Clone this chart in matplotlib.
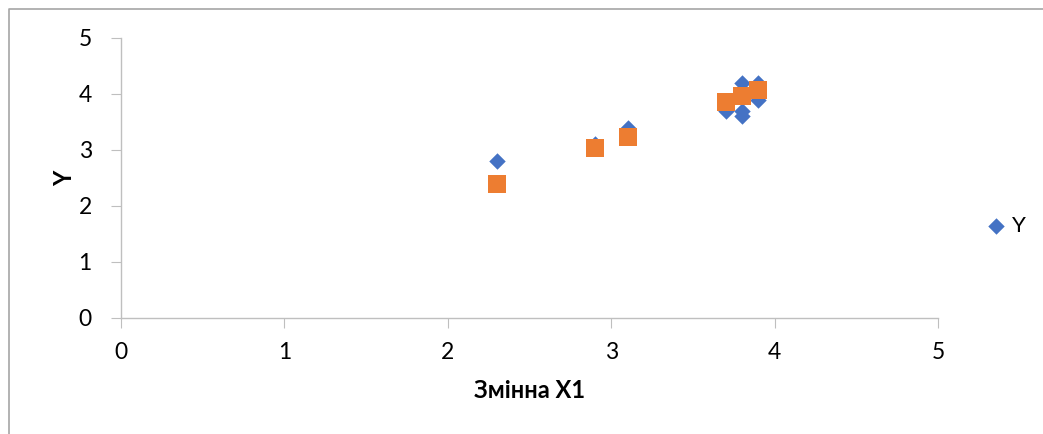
import matplotlib.pyplot as plt
from matplotlib.lines import Line2D

# observed values
x1 = [2.3, 2.9, 3.1, 3.7, 3.8, 3.8, 3.8, 3.9, 3.9]
y_obs = [2.8, 3.1, 3.4, 3.7, 4.2, 3.7, 3.6, 4.2, 3.9]

# predicted values
x1_pred = [2.3, 2.9, 3.1, 3.7, 3.8, 3.9]
y_pred = [2.39, 3.03, 3.23, 3.86, 3.96, 4.07]

ticks = [0, 1, 2, 3, 4, 5]

plt.rcParams['font.family'] = ['Lato', 'DejaVu Sans']

fig = plt.figure(figsize=(10.43, 4.34), dpi=100)
ax = fig.add_axes([121 / 1043, 1 - 318 / 434, 817 / 1043, 280 / 434])

ax.scatter(x1, y_obs, marker='D', s=70, color='#4472C4', label='Y', zorder=3,
           linewidths=0)
ax.scatter(x1_pred, y_pred, marker='s', s=170, color='#ED7D31', zorder=4,
           linewidths=0)

ax.set_xlim(0, 5)
ax.set_ylim(0, 5)
ax.set_xticks(ticks)
ax.set_yticks(ticks)
ax.tick_params(axis='both', labelsize=16.5, length=7, color='#BFBFBF',
               labelcolor='black', direction='out')
ax.tick_params(axis='y', pad=14)
ax.tick_params(axis='x', pad=10)

for side in ['top', 'right']:
    ax.spines[side].set_visible(False)
for side in ['left', 'bottom']:
    ax.spines[side].set_color('#BFBFBF')
    ax.spines[side].set_linewidth(1)

ax.set_xlabel('Змінна X1', fontsize=17, fontweight='bold', labelpad=12)
ax.set_ylabel('Y', fontsize=17, fontweight='bold', labelpad=2)

fig.legend(loc='center left', bbox_to_anchor=(963 / 1043, 1 - 226 / 434),
           frameon=False, fontsize=16, handletextpad=0.1,
           markerscale=1.0, handlelength=1.2)

# chart area border (only left and top edges show in the crop)
fig.add_artist(Line2D([8.5 / 1043, 8.5 / 1043, 1.0], [0.0, 1 - 8.5 / 434, 1 - 8.5 / 434],
                      transform=fig.transFigure, color='#A6A6A6', linewidth=1.2))

fig.savefig('out.png', dpi=100, facecolor='white')
